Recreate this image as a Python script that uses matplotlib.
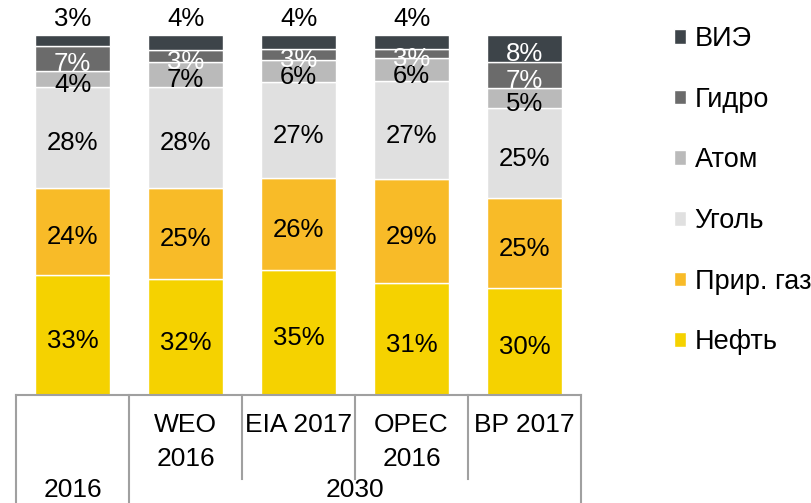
import numpy as np
import matplotlib
matplotlib.use("Agg")
import matplotlib.pyplot as plt
import matplotlib.transforms as mtransforms

plt.rcParams['font.family'] = ['Liberation Sans', 'DejaVu Sans']

# categories (two-level axis)
sources = ["WEO\n2016", "EIA 2017", "OPEC\n2016", "BP 2017"]
years = ["2016", "2030"]

# shares, %, bottom -> top
oil = [33.2, 32.3, 34.7, 31.0, 29.7]
gas = [24.3, 25.2, 25.6, 29.0, 25.0]
coal = [28.0, 27.9, 26.6, 27.1, 25.0]
atom = [4.4, 7.1, 6.0, 6.3, 5.4]
hydro = [6.9, 3.2, 3.2, 2.7, 7.3]
renew = [3.2, 4.3, 3.9, 3.9, 7.6]

series = [oil, gas, coal, atom, hydro, renew]
labels = ["Нефть", "Прир. газ", "Уголь", "Атом", "Гидро", "ВИЭ"]
colors = ["#f5d200", "#f8bb28", "#e0e0e0", "#bababa", "#6b6b6b", "#3d4449"]
txt_colors = ["black", "black", "black", "black", "white", "white"]

W, H = 811, 503
fig = plt.figure(figsize=(W / 100, H / 100), dpi=100)
ax = fig.add_axes([16 / W, (H - 395) / H, 565 / W, (395 - 34.7) / H])

x = np.arange(len(oil))
bottom = np.zeros(len(oil))
bars = []
for vals, lab, col, tcol in zip(series, labels, colors, txt_colors):
    vals = np.array(vals)
    b = ax.bar(x, vals, 0.66, bottom=bottom, color=col, edgecolor="white",
               linewidth=1, label=lab)
    bars.append(b)
    for xi, v, b0 in zip(x, vals, bottom):
        if lab == "ВИЭ" and v < 5:
            # small share: label sits above the bar
            ax.text(xi, b0 + v + 4.3, "%d%%" % round(v), ha="center",
                    va="center", fontsize=18.5, color="black", clip_on=False)
        else:
            ax.text(xi, b0 + v / 2 - 1.6, "%d%%" % round(v), ha="center",
                    va="center", fontsize=18.5, color=tcol)
    bottom = bottom + vals

ax.set_xlim(-0.5, 4.5)
ax.set_ylim(0, 100)
ax.axis("off")

# category axis drawn as a table below the bars
trans = mtransforms.blended_transform_factory(ax.transData, ax.transAxes)
px = 1 / (395 - 34.7)
line_kw = dict(color="#a0a0a0", lw=1.5, transform=trans, clip_on=False)
ax.plot([-0.5, 4.5], [0, 0], **line_kw)
for xv in [-0.5, 0.5, 4.5]:
    ax.plot([xv, xv], [0, -108 * px], **line_kw)
for xv in [1.5, 2.5, 3.5]:
    ax.plot([xv, xv], [0, -84 * px], **line_kw)

for xi, name in zip(x[1:], sources):
    for i, part in enumerate(name.split("\n")):
        ax.text(xi, -(30 + 34 * i) * px, part, ha="center", va="center",
                fontsize=19, transform=trans)
ax.text(0, -95 * px, years[0], ha="center", va="center", fontsize=19,
        transform=trans)
ax.text(2.5, -95 * px, years[1], ha="center", va="center", fontsize=19,
        transform=trans)

handles = bars[::-1]
fig.legend(handles, labels[::-1], loc="upper left",
           bbox_to_anchor=(674 / W, 1 - 26 / H), frameon=False,
           fontsize=19.5, handlelength=0.46, handleheight=0.46,
           handletextpad=0.3, labelspacing=1.28, borderpad=0,
           borderaxespad=0)

fig.savefig("out.png", dpi=100)
